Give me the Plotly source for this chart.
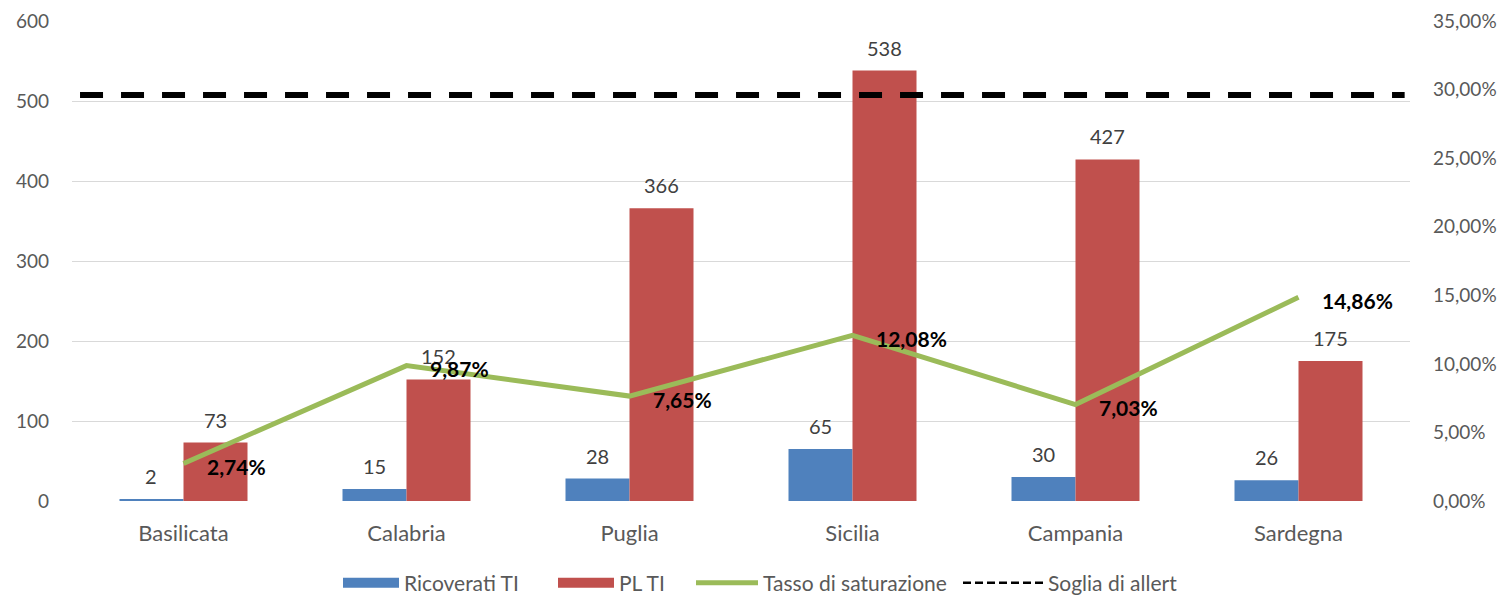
import plotly.graph_objects as go

regions = ["Basilicata", "Calabria", "Puglia", "Sicilia", "Campania", "Sardegna"]
ricoverati_ti = [2, 15, 28, 65, 30, 26]
pl_ti = [73, 152, 366, 538, 427, 175]
tasso_saturazione = [0.0274, 0.0987, 0.0765, 0.1208, 0.0703, 0.1486]
soglia_allert = 0.296

FONT = "Lato, 'Open Sans', sans-serif"
AX_COLOR = "#595959"
LBL_COLOR = "#404040"
BLUE = "#4F81BD"
RED = "#C0504D"
GREEN = "#9BBB59"

W, H = 1500, 589
ML, MR, MT, MB = 64, 98, 13, 96
BARGAP = 0.426
cat_px = (W - ML - MR) / len(regions)
bar_px = cat_px * (1 - BARGAP) / 2

fig = go.Figure()
fig.add_trace(go.Bar(
    name="Ricoverati TI", x=regions, y=ricoverati_ti, showlegend=False,
    marker=dict(color=BLUE, line=dict(width=0)),
))
fig.add_trace(go.Bar(
    name="PL TI", x=regions, y=pl_ti, showlegend=False,
    marker=dict(color=RED, line=dict(width=0)),
))
fig.add_trace(go.Scatter(
    name="Tasso di saturazione", x=regions, y=tasso_saturazione, yaxis="y2",
    mode="lines", line=dict(color=GREEN, width=5), showlegend=False,
))

# legend entries (separate legends for exact placement)
fig.add_trace(go.Scatter(name="Ricoverati TI", x=[None], y=[None], mode="lines",
                         line=dict(color=BLUE, width=14), legend="legend"))
fig.add_trace(go.Scatter(name="PL TI", x=[None], y=[None], mode="lines",
                         line=dict(color=RED, width=14), legend="legend2"))
fig.add_trace(go.Scatter(name="Tasso di saturazione", x=[None], y=[None], mode="lines",
                         line=dict(color=GREEN, width=5), legend="legend3"))
fig.add_trace(go.Scatter(name="Soglia di allert", x=[None], y=[None], mode="lines",
                         line=dict(color="black", width=2.5, dash="8px,4px"),
                         legend="legend4"))

fig.add_shape(type="line", xref="paper", yref="y2", x0=0.006, x1=0.996,
              y0=soglia_allert, y1=soglia_allert,
              line=dict(color="black", width=6, dash="23px,18px"), layer="above")

# bar value labels
for series, shift in ((ricoverati_ti, -bar_px / 2), (pl_ti, bar_px / 2)):
    for r, v in zip(regions, series):
        fig.add_annotation(x=r, y=v, xref="x", yref="y", text=str(v),
                           showarrow=False, xanchor="center", yanchor="middle",
                           xshift=shift, yshift=23,
                           font=dict(size=20, color=LBL_COLOR, family=FONT))

# percentage labels
for r, v in zip(regions, tasso_saturazione):
    fig.add_annotation(x=r, y=v, yref="y2", xref="x",
                       text="<b>" + f"{v*100:.2f}".replace(".", ",") + "%</b>",
                       showarrow=False, xanchor="left", yanchor="middle",
                       xshift=21, yshift=-3,
                       font=dict(size=21, color="black", family=FONT))

def leg(x_px, itemwidth):
    return dict(orientation="h", xref="container", x=x_px / W, xanchor="left",
                yref="container", y=1 - 575 / H, yanchor="middle",
                font=dict(size=21, color=AX_COLOR, family=FONT),
                itemwidth=itemwidth, bgcolor="rgba(0,0,0,0)")

fig.update_layout(
    width=W, height=H,
    margin=dict(l=ML, r=MR, t=MT, b=MB, autoexpand=False),
    plot_bgcolor="white", paper_bgcolor="white",
    barmode="group", bargap=BARGAP, bargroupgap=0,
    separators=",.",
    font=dict(family=FONT, size=18, color=AX_COLOR),
    xaxis=dict(showgrid=False, ticks="", tickfont=dict(size=22, color=AX_COLOR),
               ticklabelstandoff=17, showline=False, zeroline=False, automargin=False),
    yaxis=dict(range=[0, 600], dtick=100, showgrid=True, gridcolor="#D9D9D9",
               gridwidth=1, zeroline=False, ticks="", ticklabelstandoff=22,
               ticklabeloverflow="allow",
               tickfont=dict(size=19, color=AX_COLOR), automargin=False),
    yaxis2=dict(range=[0, 0.35], dtick=0.05, tickformat=".2%", overlaying="y",
                side="right", showgrid=False, zeroline=False, ticks="",
                ticklabelstandoff=22, ticklabeloverflow="allow",
                tickfont=dict(size=19, color=AX_COLOR), automargin=False),
    legend=leg(343 - 8 - 5, 56),
    legend2=leg(558 - 8 - 5, 56),
    legend3=leg(696 - 8 - 5, 62),
    legend4=leg(963 - 8 - 5, 80),
    showlegend=True,
)

fig.write_html("out.html")
